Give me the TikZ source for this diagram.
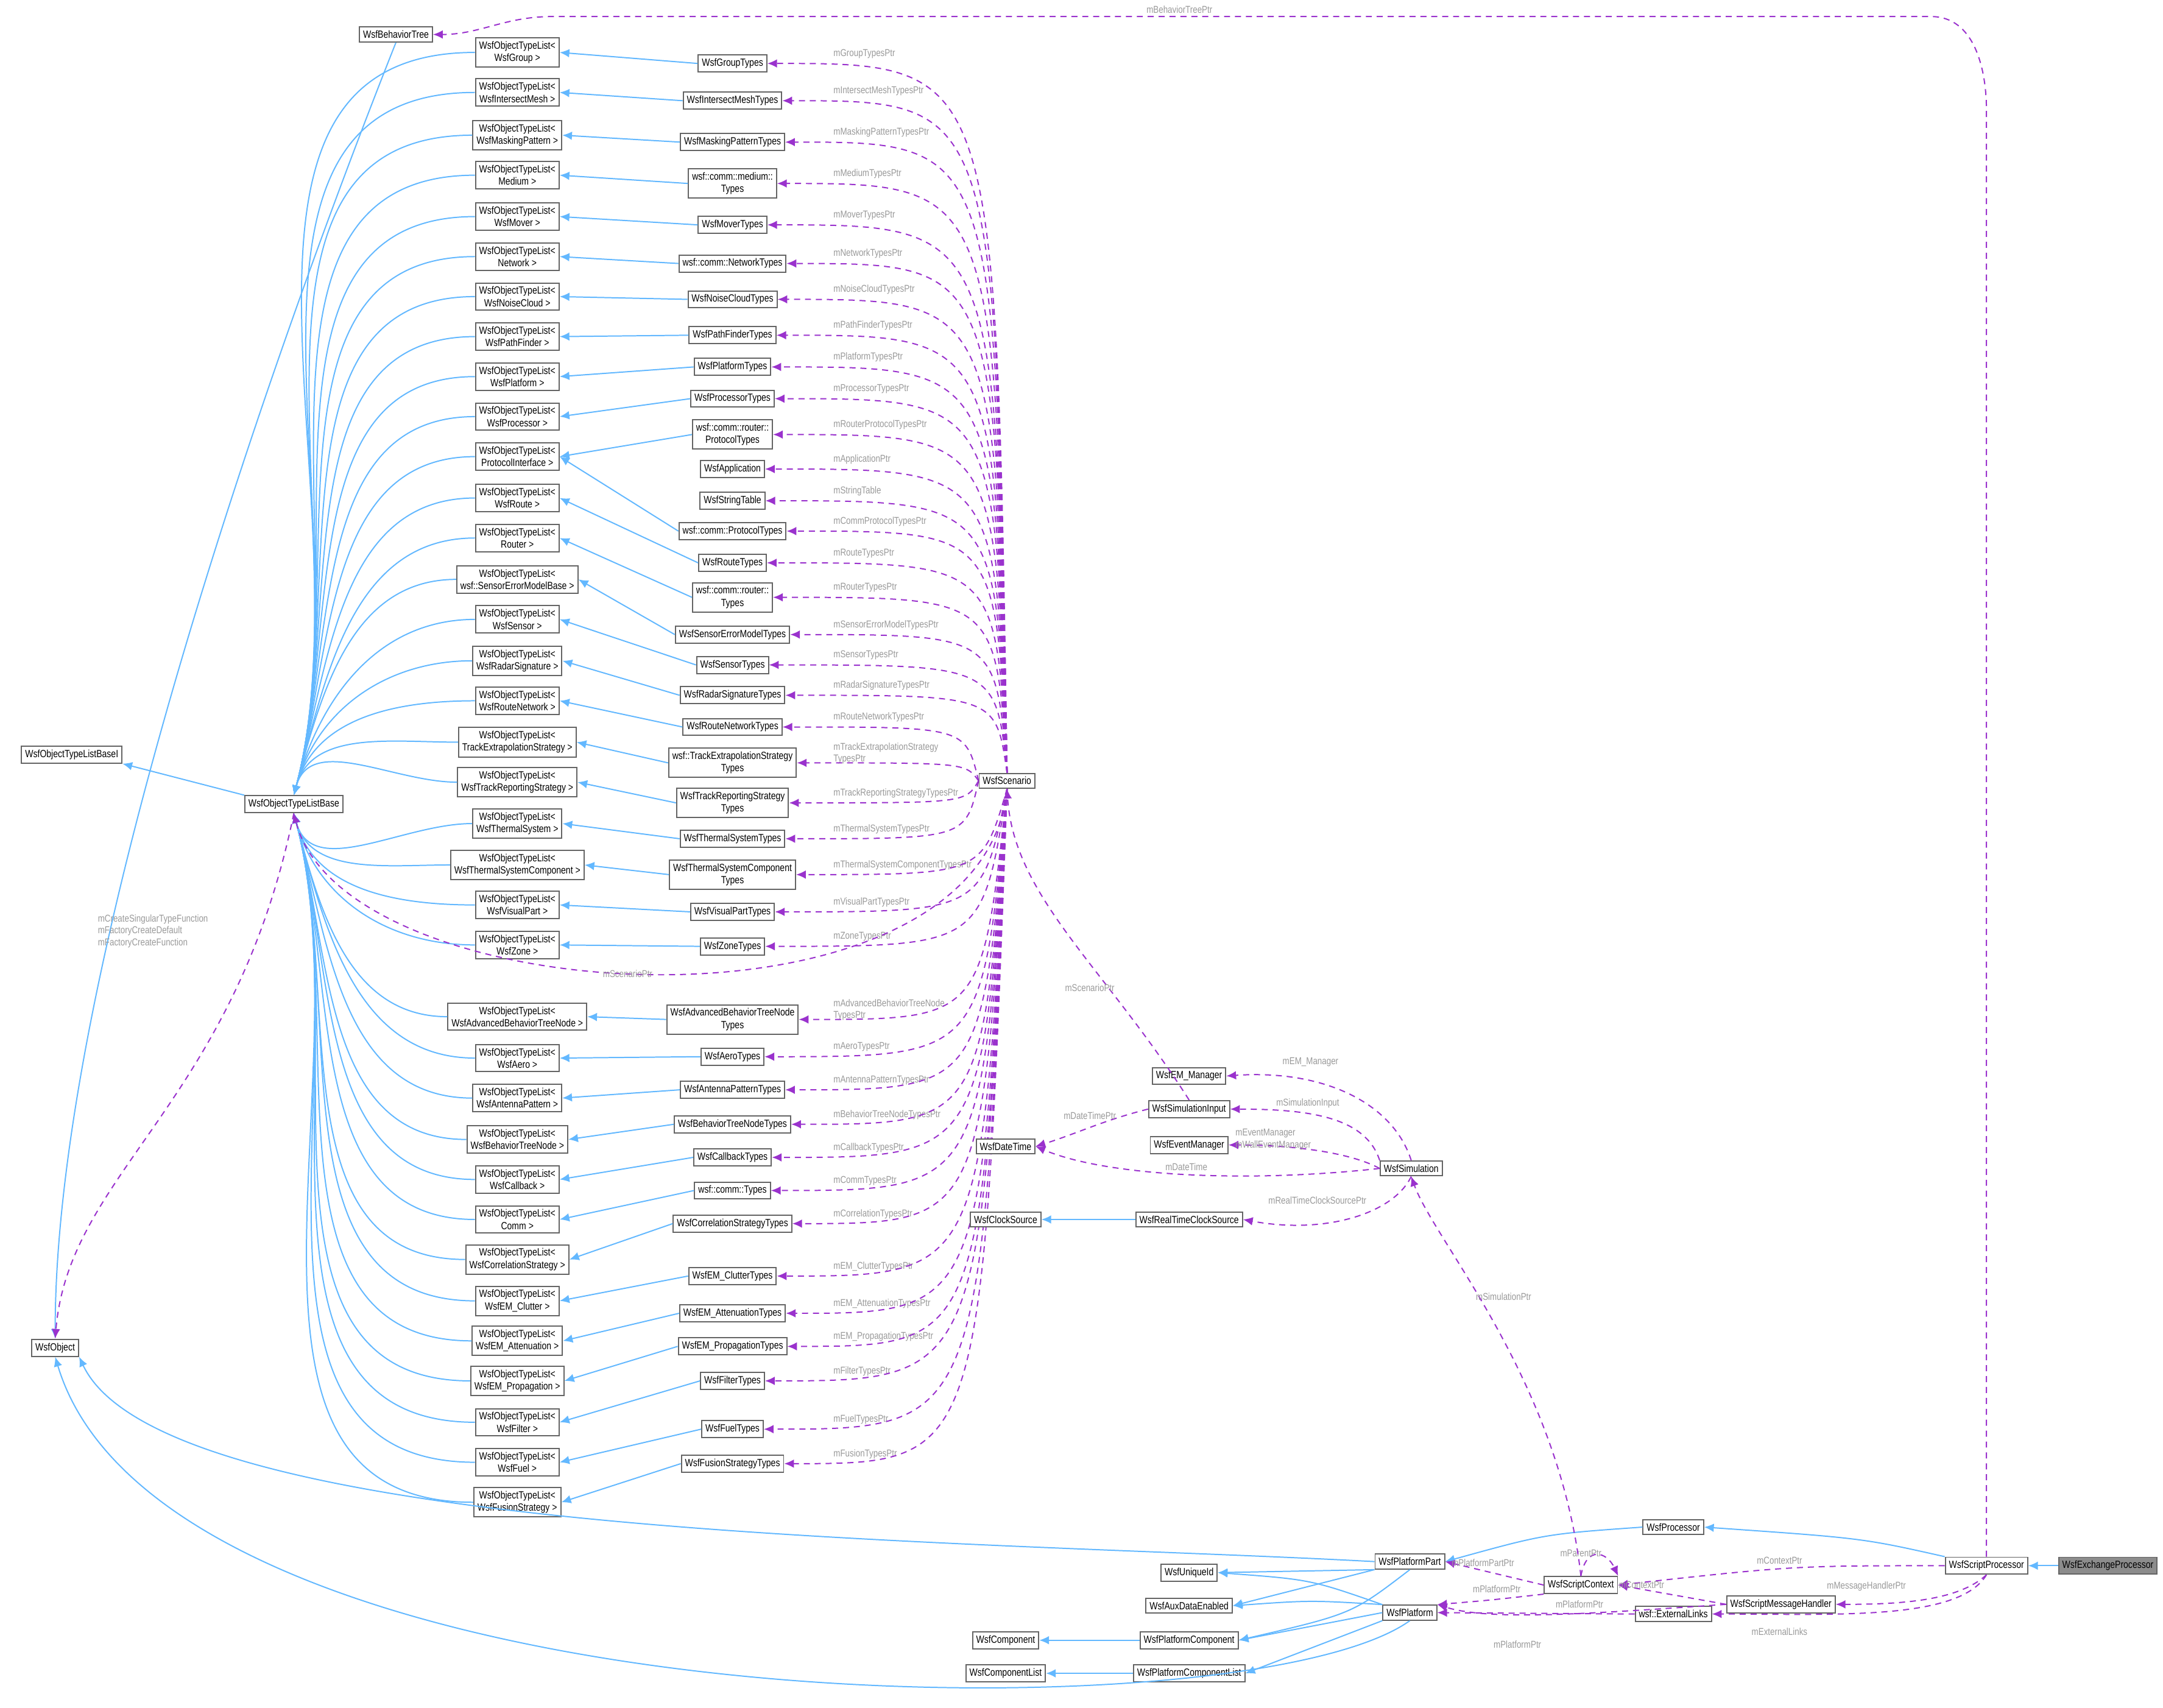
\documentclass[tikz,border=0pt]{standalone}
\usepackage{fontspec}
\setmainfont{Liberation Sans}[FakeStretch=0.82]
\usepackage{tikz}
\usetikzlibrary{arrows.meta,positioning,calc}
\definecolor{inhblue}{RGB}{99,184,255}
\definecolor{usepurple}{RGB}{154,50,205}
\definecolor{edgegray}{RGB}{100,100,100}

\tikzset{
  box/.style={draw=edgegray, fill=white, line width=0.5pt, inner sep=1.5pt, align=center,
              font=\fontsize{4.3}{5.1}\selectfont},
  focus/.style={box, fill=black!45},
  inh/.style={draw=inhblue, line width=0.5pt, -{Latex[length=4pt,width=3.5pt]}},
  dep/.style={draw=usepurple, line width=0.5pt, dashed, dash pattern=on 2.5pt off 2pt,
              -{Latex[length=4pt,width=3.5pt]}},
  lbl/.style={text=black!40, font=\fontsize{4.1}{4.9}\selectfont, inner sep=0.5pt, align=left}
}

\begin{document}
\begin{tikzpicture}[x=0.02cm,y=-0.02cm]
\useasboundingbox (0,0) rectangle (1568,1238);

% base classes on the left
\node[box] (bt) at (287,25) {WsfBehaviorTree};
\node[box] (baseI) at (52,547) {WsfObjectTypeListBaseI};
\node[box] (base) at (213,583) {WsfObjectTypeListBase};
\node[box] (obj) at (40,977) {WsfObject};
\node[box] (scen) at (730,566) {WsfScenario};

% type lists
\foreach \i/\y/\txt in {1/38/WsfGroup,2/67/WsfIntersectMesh,3/98/WsfMaskingPattern,4/127/Medium,
  5/157/WsfMover,6/186/Network,7/215/WsfNoiseCloud,8/244/WsfPathFinder,9/273/WsfPlatform,
  10/302/WsfProcessor,11/331/ProtocolInterface,12/361/WsfRoute,13/390/Router,
  14/420/wsf::SensorErrorModelBase,15/449/WsfSensor,16/479/WsfRadarSignature,
  17/508/WsfRouteNetwork,18/538/TrackExtrapolationStrategy,19/567/WsfTrackReportingStrategy,
  20/597/WsfThermalSystem,21/627/WsfThermalSystemComponent,22/656/WsfVisualPart,23/685/WsfZone,
  24/737/WsfAdvancedBehaviorTreeNode,25/767/WsfAero,26/796/WsfAntennaPattern,
  27/826/WsfBehaviorTreeNode,28/855/WsfCallback,29/884/Comm,30/913/WsfCorrelationStrategy,
  31/943/WsfEM\_Clutter,32/972/WsfEM\_Attenuation,33/1001/WsfEM\_Propagation,34/1031/WsfFilter,
  35/1060/WsfFuel,36/1089/WsfFusionStrategy}{
  \node[box] (l\i) at (375,\y) {WsfObjectTypeList<\\\txt\ >};
  \ifnum\y<583
    \draw[inh] (l\i.west) to[out=180,in=75] (base.north);
  \else
    \draw[inh] (l\i.west) to[out=180,in=-75] (base.south);
  \fi
}

% types held by the scenario
\foreach \i/\y/\txt/\tgt/\lab in {a/46/WsfGroupTypes/1/mGroupTypesPtr,
  b/73/WsfIntersectMeshTypes/2/mIntersectMeshTypesPtr,
  c/103/WsfMaskingPatternTypes/3/mMaskingPatternTypesPtr,
  d/133/{wsf::comm::medium::\\Types}/4/mMediumTypesPtr,
  e/163/WsfMoverTypes/5/mMoverTypesPtr,
  f/191/wsf::comm::NetworkTypes/6/mNetworkTypesPtr,
  g/217/WsfNoiseCloudTypes/7/mNoiseCloudTypesPtr,
  h/243/WsfPathFinderTypes/8/mPathFinderTypesPtr,
  i/266/WsfPlatformTypes/9/mPlatformTypesPtr,
  j/289/WsfProcessorTypes/10/mProcessorTypesPtr,
  k/315/{wsf::comm::router::\\ProtocolTypes}/11/mRouterProtocolTypesPtr,
  l/340/WsfApplication/0/mApplicationPtr,
  m/363/WsfStringTable/0/mStringTable,
  n/385/wsf::comm::ProtocolTypes/11/mCommProtocolTypesPtr,
  o/408/WsfRouteTypes/12/mRouteTypesPtr,
  p/433/{wsf::comm::router::\\Types}/13/mRouterTypesPtr,
  q/460/WsfSensorErrorModelTypes/14/mSensorErrorModelTypesPtr,
  r/482/WsfSensorTypes/15/mSensorTypesPtr,
  s/504/WsfRadarSignatureTypes/16/mRadarSignatureTypesPtr,
  t/527/WsfRouteNetworkTypes/17/mRouteNetworkTypesPtr,
  u/553/{wsf::TrackExtrapolationStrategy\\Types}/18/{mTrackExtrapolationStrategy\\TypesPtr},
  v/582/{WsfTrackReportingStrategy\\Types}/19/mTrackReportingStrategyTypesPtr,
  w/608/WsfThermalSystemTypes/20/mThermalSystemTypesPtr,
  x/634/{WsfThermalSystemComponent\\Types}/21/mThermalSystemComponentTypesPtr,
  y/661/WsfVisualPartTypes/22/mVisualPartTypesPtr,
  z/686/WsfZoneTypes/23/mZoneTypesPtr,
  A/739/{WsfAdvancedBehaviorTreeNode\\Types}/24/{mAdvancedBehaviorTreeNode\\TypesPtr},
  B/766/WsfAeroTypes/25/mAeroTypesPtr,
  C/790/WsfAntennaPatternTypes/26/mAntennaPatternTypesPtr,
  D/815/WsfBehaviorTreeNodeTypes/27/mBehaviorTreeNodeTypesPtr,
  E/839/WsfCallbackTypes/28/mCallbackTypesPtr,
  F/863/wsf::comm::Types/29/mCommTypesPtr,
  G/887/WsfCorrelationStrategyTypes/30/mCorrelationTypesPtr,
  H/925/WsfEM\_ClutterTypes/31/mEM\_ClutterTypesPtr,
  I/952/WsfEM\_AttenuationTypes/32/mEM\_AttenuationTypesPtr,
  J/976/WsfEM\_PropagationTypes/33/mEM\_PropagationTypesPtr,
  K/1001/WsfFilterTypes/34/mFilterTypesPtr,
  L/1036/WsfFuelTypes/35/mFuelTypesPtr,
  M/1061/WsfFusionStrategyTypes/36/mFusionTypesPtr}{
  \node[box] (t\i) at (531,\y) {\txt};
  \ifnum\tgt>0 \draw[inh] (t\i.west) -- (l\tgt.east); \fi
  \node[lbl, anchor=west] at (603,\y-7) {\lab};
  \ifnum\y<520
    \draw[dep] (scen.north) .. controls (722,\y) .. (t\i.east);
  \else\ifnum\y>620
    \draw[dep] (scen.south) .. controls (712,\y) .. (t\i.east);
  \else
    \draw[dep] (scen.west) .. controls (700,\y) .. (t\i.east);
  \fi\fi
}

% inheritance and members of the object type list base
\draw[inh] (base.north west) -- (baseI.south east);
\draw[inh] (bt.south) .. controls (200,250) and (40,700) .. (obj.north);
\draw[dep] (scen.south) .. controls (712,760) and (250,735) .. (base.south);
\node[lbl] at (455,706) {mScenarioPtr};
\draw[dep] (base.south) .. controls (170,800) and (50,850) .. (obj.north);
\node[lbl, anchor=east] at (152,675) {mCreateSingularTypeFunction\\mFactoryCreateDefault\\mFactoryCreateFunction};

% simulation side
\node[box] (emm) at (862,780) {WsfEM\_Manager};
\node[box] (simin) at (862,804) {WsfSimulationInput};
\node[box] (dt) at (729,831) {WsfDateTime};
\node[box] (evm) at (862,830) {WsfEventManager};
\node[box] (sim) at (1023,847) {WsfSimulation};
\node[box] (clk) at (729,884) {WsfClockSource};
\node[box] (rtc) at (862,884) {WsfRealTimeClockSource};

\draw[dep] (simin.north) .. controls (800,700) and (735,650) .. (scen.south);
\node[lbl] at (790,716) {mScenarioPtr};
\draw[dep] (sim.north) .. controls (1010,800) and (960,775) .. (emm.east);
\node[lbl] at (950,770) {mEM\_Manager};
\draw[dep] (sim.north west) .. controls (990,810) and (950,804) .. (simin.east);
\node[lbl] at (948,800) {mSimulationInput};
\draw[dep] (sim.west) .. controls (980,836) and (940,830) .. (evm.east);
\node[lbl] at (923,826) {mEventManager\\mWallEventManager};
\draw[dep] (sim.west) .. controls (900,858) and (800,852) .. (dt.east);
\node[lbl] at (860,846) {mDateTime};
\draw[dep] (sim.south) .. controls (1010,880) and (960,895) .. (rtc.east);
\node[lbl] at (955,870) {mRealTimeClockSourcePtr};
\draw[dep] (simin.west) .. controls (800,812) and (780,822) .. (dt.east);
\node[lbl] at (790,809) {mDateTimePtr};
\draw[inh] (rtc.west) -- (clk.east);

% processor and platform side
\node[box] (proc) at (1213,1107) {WsfProcessor};
\node[box] (part) at (1022,1132) {WsfPlatformPart};
\node[box] (sproc) at (1440,1135) {WsfScriptProcessor};
\node[focus] (exch) at (1528,1135) {WsfExchangeProcessor};
\node[box] (uid) at (862,1140) {WsfUniqueId};
\node[box] (aux) at (862,1164) {WsfAuxDataEnabled};
\node[box] (sctx) at (1146,1149) {WsfScriptContext};
\node[box] (smh) at (1291,1163) {WsfScriptMessageHandler};
\node[box] (comp) at (729,1189) {WsfComponent};
\node[box] (pcomp) at (862,1189) {WsfPlatformComponent};
\node[box] (plat) at (1022,1169) {WsfPlatform};
\node[box] (ext) at (1213,1170) {wsf::ExternalLinks};
\node[box] (clist) at (729,1213) {WsfComponentList};
\node[box] (pclist) at (862,1213) {WsfPlatformComponentList};

\draw[inh] (exch.west) -- (sproc.east);
\draw[inh] (sproc.north west) .. controls (1350,1115) .. (proc.east);
\draw[inh] (proc.west) .. controls (1120,1112) .. (part.east);
\draw[inh] (part.west) .. controls (700,1116) and (120,1116) .. (obj.south east);
\draw[inh] (part.south west) -- (uid.east);
\draw[inh] (part.south west) -- (aux.east);
\draw[inh] (part.south) .. controls (980,1170) .. (pcomp.east);
\draw[inh] (plat.north west) .. controls (950,1145) .. (uid.east);
\draw[inh] (plat.north west) .. controls (950,1160) .. (aux.east);
\draw[inh] (plat.west) -- (pcomp.east);
\draw[inh] (plat.south west) -- (pclist.east);
\draw[inh] (plat.south) .. controls (900,1262) and (120,1250) .. (obj.south);
\draw[inh] (pcomp.west) -- (comp.east);
\draw[inh] (pclist.west) -- (clist.east);

\draw[dep] (sproc.north) -- (1440,80) to[out=90,in=0] (1400,12) -- (400,12) to[out=180,in=0] (bt.east);
\node[lbl] at (855,7) {mBehaviorTreePtr};
\draw[dep] (sproc.west) .. controls (1300,1135) .. (sctx.east);
\node[lbl] at (1290,1131) {mContextPtr};
\draw[dep] (sproc.south) .. controls (1420,1160) and (1380,1163) .. (smh.east);
\node[lbl] at (1353,1150) {mMessageHandlerPtr};
\draw[dep] (sproc.south) .. controls (1420,1175) and (1330,1170) .. (ext.east);
\node[lbl] at (1290,1183) {mExternalLinks};
\draw[dep] (smh.west) -- (sctx.east);
\node[lbl] at (1190,1149) {mContextPtr};
\draw[dep] (smh.west) .. controls (1150,1170) and (1080,1175) .. (plat.north east);
\node[lbl] at (1145,1163) {mPlatformPtr};
\draw[dep] (ext.west) -- (plat.east);
\node[lbl] at (1100,1192) {mPlatformPtr};
\draw[dep] (sctx.south west) .. controls (1080,1160) .. (plat.north east);
\node[lbl] at (1085,1152) {mPlatformPtr};
\draw[dep] (sctx.west) -- (part.east);
\node[lbl] at (1075,1133) {mPlatformPartPtr};
\draw[dep] (sctx.north) .. controls (1150,1120) and (1165,1125) .. (sctx.north east);
\node[lbl] at (1146,1126) {mParentPtr};
\draw[dep] (sctx.north) .. controls (1130,1000) and (1040,900) .. (sim.south);
\node[lbl] at (1090,940) {mSimulationPtr};
\end{tikzpicture}
\end{document}
